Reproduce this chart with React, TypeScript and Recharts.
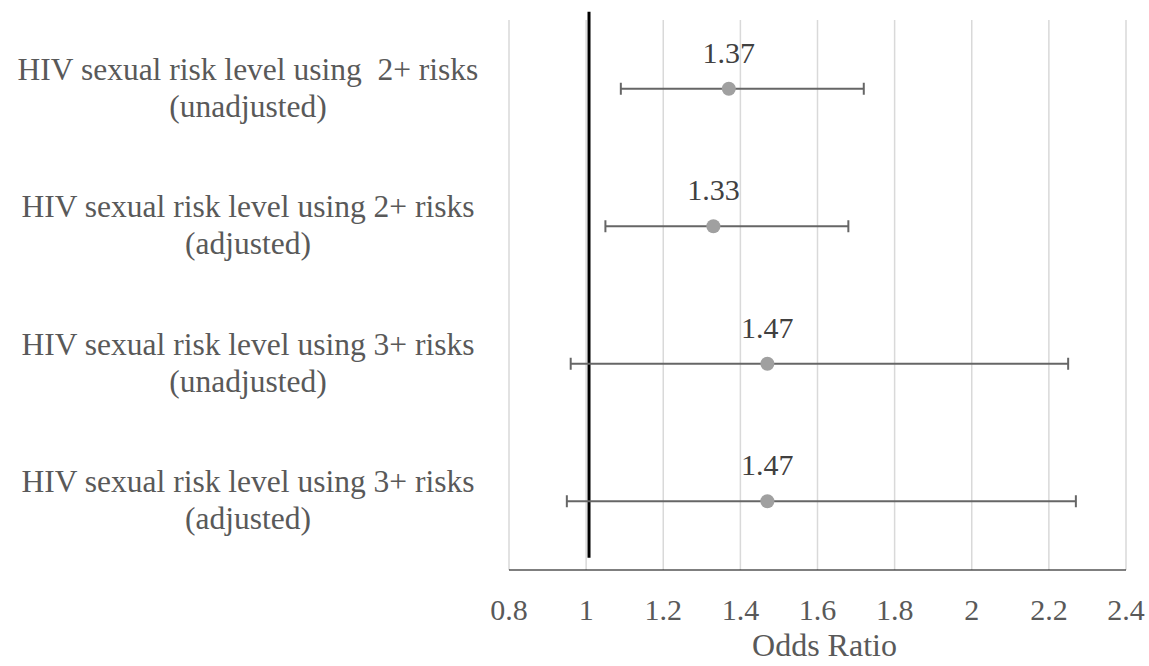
import {
  ScatterChart,
  Scatter,
  XAxis,
  YAxis,
  CartesianGrid,
  ErrorBar,
  LabelList,
  ReferenceLine,
} from "recharts";

// rows top to bottom
const labelLine1 = [
  "HIV sexual risk level using  2+ risks",
  "HIV sexual risk level using 2+ risks",
  "HIV sexual risk level using 3+ risks",
  "HIV sexual risk level using 3+ risks",
];
const labelLine2 = ["(unadjusted)", "(adjusted)", "(unadjusted)", "(adjusted)"];
const rowPos = [1, 2, 3, 4];
const oddsRatio = [1.37, 1.33, 1.47, 1.47];
const ciLow = [1.09, 1.05, 0.96, 0.95];
const ciHigh = [1.72, 1.68, 2.25, 2.27];

const xTicks = [0.8, 1, 1.2, 1.4, 1.6, 1.8, 2, 2.2, 2.4];
// the black "no effect" line, as drawn in the source
const nullLineX = 1.0075;
const nullLineY = [0.44, 4.41];

const data = rowPos.map((y, i) => ({
  y,
  or: oddsRatio[i],
  err: [oddsRatio[i] - ciLow[i], ciHigh[i] - oddsRatio[i]],
}));

const serif = {
  fontFamily: "'Liberation Serif', Tinos, 'Times New Roman', Times, 'DejaVu Serif', serif",
  whiteSpace: "pre" as const,
};

function CategoryTick({ y, payload }: any) {
  const i = rowPos.indexOf(payload.value);
  if (i < 0) return null;
  return (
    <g>
      <text x={248} y={y - 9} textAnchor="middle" fontSize={31.5} style={serif} fill="#595959">
        {labelLine1[i]}
      </text>
      <text x={248} y={y + 28} textAnchor="middle" fontSize={31.5} style={serif} fill="#595959">
        {labelLine2[i]}
      </text>
    </g>
  );
}

function ValueTick({ x, y, payload }: any) {
  return (
    <text x={x} y={y + 50} textAnchor="middle" fontSize={30} style={serif} fill="#595959">
      {payload.value}
    </text>
  );
}

function AxisTitle({ viewBox }: any) {
  const { x, y, width } = viewBox;
  return (
    <text x={x + width / 2 + 7} y={y + 86} textAnchor="middle" fontSize={32} style={serif} fill="#595959">
      Odds Ratio
    </text>
  );
}

function PointLabel({ x, y, width, height, value }: any) {
  const cx = x + width / 2;
  const cy = y + height / 2;
  return (
    <text x={cx} y={cy - 26} textAnchor="middle" fontSize={30} style={serif} fill="#404040">
      {value}
    </text>
  );
}

function Dot({ cx, cy }: any) {
  return <circle cx={cx} cy={cy} r={7} fill="#a0a0a0" />;
}

export default function App() {
  return (
    <div style={{ width: 1149, height: 666, background: "#fff" }}>
      <style>{"body{margin:0}"}</style>
      <ScatterChart
        width={1149}
        height={666}
        margin={{ top: 20, right: 23, left: 0, bottom: 0 }}
      >
        <CartesianGrid horizontal={false} stroke="#d9d9d9" strokeWidth={1.5} />
        <XAxis
          type="number"
          dataKey="or"
          domain={[0.8, 2.4]}
          ticks={xTicks}
          height={96}
          tickSize={0}
          tickMargin={0}
          tickLine={false}
          axisLine={{ stroke: "#000", strokeWidth: 1.2 }}
          tick={<ValueTick />}
          interval={0}
          label={<AxisTitle />}
        />
        <YAxis
          type="number"
          dataKey="y"
          domain={[0.5, 4.5]}
          ticks={rowPos}
          reversed
          width={509}
          tickSize={0}
          tickMargin={0}
          axisLine={false}
          tickLine={false}
          tick={<CategoryTick />}
          interval={0}
        />
        <ReferenceLine
          segment={[
            { x: nullLineX, y: nullLineY[0] },
            { x: nullLineX, y: nullLineY[1] },
          ]}
          stroke="#000"
          strokeWidth={3}
          ifOverflow="visible"
        />
        <Scatter data={data} shape={<Dot />} isAnimationActive={false}>
          <ErrorBar
            dataKey="err"
            direction="x"
            width={6}
            stroke="#666666"
            strokeWidth={2}
            isAnimationActive={false}
          />
          <LabelList dataKey="or" content={<PointLabel />} />
        </Scatter>
      </ScatterChart>
    </div>
  );
}
